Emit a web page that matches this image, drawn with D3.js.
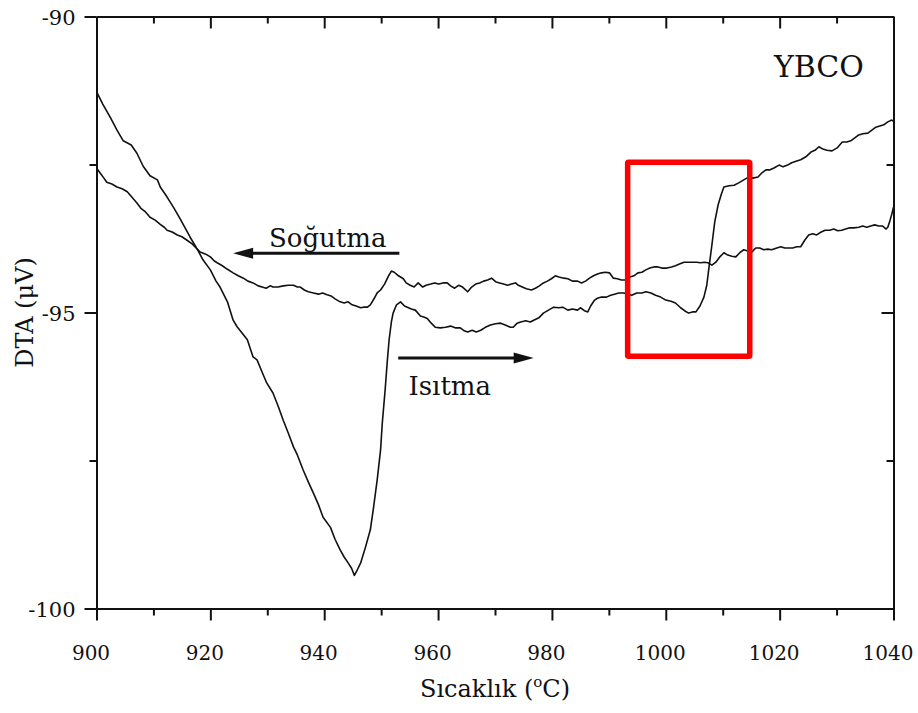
<!DOCTYPE html>
<meta charset="utf-8">
<style>
body { margin: 0; background: #fff; }
svg text { font-family: "DejaVu Serif", serif; fill: #111; }
.axis path, .axis line { stroke: #111; stroke-width: 2; }
.curve { fill: none; stroke: #111; stroke-width: 1.6; stroke-linejoin: round; }
</style>
<svg width="918" height="713"></svg>
<script src="https://d3js.org/d3.v7.min.js"></script>
<script>

// heating run (Isıtma) - temperature and DTA signal
const heatT = [900,901.1,902.4,903.6,904.7,906.1,907.1,908.2,909.4,910.7,911.2,912.4,913.5,914.7,916.4,917.7,918.7,920,921,921.7,923,924,924.7,926.5,927.5,928.2,929.1,929.9,931,931.9,932.8,933.7,934.6,935.3,936.3,937.2,938.1,939,939.8,941.1,941.9,942.8,943.5,944.2,944.8,945.3,945.8,946.4,947.2,948.1,948.6,949.3,949.9,950.2,950.7,951.1,951.4,951.8,952.1,952.7,953.4,954.1,954.6,955.3,956,956.9,957.6,958.1,958.8,959.5,960.4,961.3,962.2,963.1,963.9,964.6,965.2,966,966.7,967.5,968.3,969.2,970.1,971,971.8,972.7,973.2,973.9,974.5,975.4,976.2,976.8,977.7,978.5,979.4,980.3,981.2,981.9,982.8,983.6,984.5,985,985.7,986.3,986.8,987.5,988,988.7,989.6,990.3,991,991.7,992.6,993.5,994,994.9,995.8,996.5,997.4,998.2,999.1,1000,1000.9,1001.7,1002.6,1003.3,1004,1004.7,1005.3,1006,1006.7,1007.2,1007.6,1008.1,1008.6,1009.2,1009.7,1010.2,1011.1,1012,1012.8,1013.7,1014.6,1015.3,1016.2,1016.9,1017.6,1018.3,1019,1019.9,1020.6,1021.4,1022.1,1023,1023.7,1024.6,1025.5,1026.2,1026.9,1027.6,1028.3,1029.2,1030.1,1031,1031.8,1032.5,1033.2,1033.9,1034.6,1035.5,1036.2,1036.9,1037.6,1038.3,1039,1039.7,1040];
const heatDTA = [-91.27,-91.48,-91.7,-91.92,-92.1,-92.17,-92.31,-92.53,-92.69,-92.76,-92.88,-93.05,-93.22,-93.42,-93.72,-93.93,-94.11,-94.28,-94.47,-94.57,-94.82,-95.13,-95.24,-95.46,-95.75,-95.8,-96.01,-96.19,-96.36,-96.58,-96.82,-97.04,-97.27,-97.41,-97.66,-97.86,-98.05,-98.25,-98.46,-98.63,-98.83,-99.01,-99.13,-99.23,-99.32,-99.44,-99.35,-99.23,-98.98,-98.67,-98.34,-97.83,-97.32,-96.87,-96.31,-95.8,-95.46,-95.16,-95.01,-94.87,-94.82,-94.89,-94.91,-94.94,-94.96,-95.06,-95.08,-95.1,-95.18,-95.25,-95.26,-95.25,-95.23,-95.26,-95.26,-95.31,-95.33,-95.3,-95.33,-95.3,-95.25,-95.21,-95.19,-95.18,-95.21,-95.25,-95.25,-95.18,-95.16,-95.14,-95.16,-95.13,-95.09,-95.01,-94.96,-94.91,-94.92,-94.91,-94.96,-94.94,-94.96,-94.92,-94.97,-94.99,-94.89,-94.79,-94.76,-94.74,-94.74,-94.71,-94.69,-94.67,-94.67,-94.69,-94.71,-94.67,-94.67,-94.65,-94.67,-94.71,-94.74,-94.79,-94.81,-94.84,-94.92,-94.97,-95.01,-94.99,-94.99,-94.89,-94.74,-94.54,-94.23,-93.86,-93.47,-93.18,-93.02,-92.88,-92.86,-92.85,-92.81,-92.76,-92.71,-92.73,-92.71,-92.64,-92.59,-92.59,-92.56,-92.51,-92.54,-92.51,-92.47,-92.44,-92.42,-92.37,-92.29,-92.26,-92.2,-92.24,-92.26,-92.27,-92.22,-92.12,-92.12,-92.1,-92.05,-92,-91.98,-91.97,-91.92,-91.87,-91.85,-91.83,-91.78,-91.75,-91.77];

// cooling run (Soğutma)
const coolT = [900,900.6,901.3,901.8,902.7,903.6,904.5,905.4,906.2,907.1,907.8,908.5,909.4,910.3,911.2,911.9,912.4,913.3,914.2,915,915.9,916.8,917.5,918.2,919.1,920,920.7,921.2,922.1,923,924,924.9,925.8,926.6,927.5,928.4,929.1,929.8,930.5,931,931.9,932.8,933.7,934.6,935.3,935.8,936.5,937.2,938.1,939,939.7,940.5,941.2,941.9,942.8,943.5,944.2,944.9,945.6,946.4,946.9,947.6,948.1,948.8,949.3,949.9,950.6,951.3,951.8,952.3,952.9,953.4,953.9,954.4,955.1,955.8,956.5,957.3,957.9,958.7,959.4,960.1,960.9,961.6,962.2,962.9,963.6,964.3,965.2,965.9,966.6,967.3,968,968.7,969.4,970.1,970.8,971.5,972.2,972.9,973.6,974.1,974.8,975.5,976.4,977.1,977.8,978.5,979.2,979.9,980.6,981.2,982.1,982.8,983.6,984.5,985.2,985.9,986.6,987.3,988,988.7,989.4,990.1,990.8,991.5,992.2,993,993.7,994.4,995.1,995.8,996.5,997.2,997.9,998.6,999.3,1000.2,1001,1001.7,1002.4,1003.2,1004,1004.7,1005.4,1006.1,1006.8,1007.4,1008.1,1008.8,1009.5,1010.2,1010.9,1011.6,1012.3,1013,1013.7,1014.4,1015.1,1015.8,1016.5,1017.2,1017.9,1018.6,1019.5,1020.2,1020.9,1021.6,1022.3,1023,1023.7,1024.4,1025.1,1025.8,1026.5,1027.3,1028,1028.8,1029.5,1030.2,1030.9,1031.6,1032.3,1033,1033.9,1034.6,1035.3,1036,1036.7,1037.4,1038.1,1038.7,1039,1039.4,1039.7,1040];
const coolDTA = [-92.56,-92.64,-92.73,-92.8,-92.83,-92.88,-92.91,-92.96,-93.05,-93.15,-93.24,-93.29,-93.39,-93.44,-93.51,-93.56,-93.61,-93.64,-93.69,-93.72,-93.78,-93.84,-93.91,-93.98,-94.01,-94.06,-94.13,-94.16,-94.21,-94.27,-94.33,-94.38,-94.42,-94.47,-94.5,-94.55,-94.57,-94.59,-94.55,-94.57,-94.57,-94.55,-94.54,-94.54,-94.57,-94.57,-94.62,-94.65,-94.67,-94.69,-94.67,-94.7,-94.72,-94.77,-94.82,-94.84,-94.82,-94.87,-94.89,-94.92,-94.91,-94.91,-94.87,-94.76,-94.67,-94.62,-94.52,-94.38,-94.3,-94.32,-94.37,-94.4,-94.43,-94.5,-94.54,-94.57,-94.5,-94.57,-94.54,-94.52,-94.5,-94.52,-94.5,-94.5,-94.55,-94.59,-94.54,-94.57,-94.65,-94.57,-94.52,-94.5,-94.47,-94.45,-94.42,-94.48,-94.5,-94.52,-94.54,-94.52,-94.5,-94.54,-94.57,-94.6,-94.62,-94.59,-94.55,-94.5,-94.47,-94.43,-94.38,-94.4,-94.42,-94.43,-94.47,-94.47,-94.5,-94.47,-94.42,-94.38,-94.35,-94.33,-94.32,-94.33,-94.42,-94.43,-94.45,-94.45,-94.4,-94.38,-94.33,-94.32,-94.28,-94.25,-94.23,-94.23,-94.25,-94.25,-94.23,-94.21,-94.18,-94.15,-94.15,-94.15,-94.15,-94.16,-94.15,-94.16,-94.2,-94.15,-94.06,-93.99,-94.03,-94.05,-94.06,-93.99,-93.94,-93.96,-93.98,-93.91,-93.91,-93.94,-93.93,-93.94,-93.91,-93.89,-93.91,-93.91,-93.91,-93.89,-93.89,-93.78,-93.69,-93.67,-93.69,-93.64,-93.61,-93.61,-93.59,-93.62,-93.61,-93.59,-93.57,-93.57,-93.56,-93.54,-93.56,-93.54,-93.52,-93.54,-93.54,-93.59,-93.56,-93.44,-93.34,-93.22];

const xTicks = [900, 920, 940, 960, 980, 1000, 1020, 1040];
const xMinor = [910, 930, 950, 970, 990, 1010, 1030];
const yTicks = [-100, -95, -90];
const yMinor = [-97.5, -92.5];

// annotations, in data units
const coolArrow = [[953.2, -94.0], [924.0, -94.0]];
const heatArrow = [[953.0, -95.77], [976.8, -95.77]];
const labels = [
  {text: "Soğutma", t: 930.3, v: -93.89, size: 26},
  {text: "Isıtma", t: 954.8, v: -96.39, size: 26},
  {text: "YBCO", t: 1019.0, v: -91.02, size: 30}
];
const box = {t0: 993.3, t1: 1014.75, v0: -92.46, v1: -95.74};

const svg = d3.select("svg");
const x = d3.scaleLinear().domain([900, 1040]).range([96.5, 893.5]);
const y = d3.scaleLinear().domain([-100, -90]).range([608.5, 16.5]);
const x0 = 96.5, x1 = 893.5, y0 = 608.5, y1 = 16.5;
const fmt = d => String(d);

const line = d3.line().x(d => x(d[0])).y(d => y(d[1]));

svg.append("path").attr("class", "curve")
  .attr("d", line(heatT.map((t, i) => [t, heatDTA[i]])));
svg.append("path").attr("class", "curve")
  .attr("d", line(coolT.map((t, i) => [t, coolDTA[i]])));

// axes
function ax(a, tx, ty, cls) {
  return svg.append("g").attr("class", "axis " + cls)
    .attr("transform", "translate(" + tx + "," + ty + ")").call(a);
}
const bottom = ax(d3.axisBottom(x).tickValues(xTicks).tickSize(12).tickSizeOuter(0).tickFormat(fmt), 0, y0, "xb");
ax(d3.axisBottom(x).tickValues(xMinor).tickSize(7).tickSizeOuter(0).tickFormat(""), 0, y0, "xm");
ax(d3.axisTop(x).tickValues(xTicks).tickSize(-12).tickSizeOuter(0).tickFormat(""), 0, y1, "xt");
ax(d3.axisTop(x).tickValues(xMinor).tickSize(-7).tickSizeOuter(0).tickFormat(""), 0, y1, "xt");
const left = ax(d3.axisLeft(y).tickValues(yTicks).tickSize(12).tickSizeOuter(0).tickFormat(fmt), x0, 0, "yl");
ax(d3.axisLeft(y).tickValues(yMinor).tickSize(7).tickSizeOuter(0).tickFormat(""), x0, 0, "ym");
ax(d3.axisRight(y).tickValues(yTicks).tickSize(-12).tickSizeOuter(0).tickFormat(""), x1, 0, "yr");
ax(d3.axisRight(y).tickValues(yMinor).tickSize(-7).tickSizeOuter(0).tickFormat(""), x1, 0, "yr");

svg.selectAll(".axis").attr("font-family", null);
svg.selectAll(".axis text").attr("fill", "#111");
bottom.selectAll("text").attr("font-size", 20).attr("dy", null).attr("y", 51).attr("x", -6);
left.selectAll("text").attr("font-size", 21).attr("dy", "0.36em").attr("x", -21);

// axis titles
const xt = svg.append("text").attr("x", (x0 + x1) / 2).attr("y", 697)
  .attr("text-anchor", "middle").attr("font-size", 24);
xt.append("tspan").text("Sıcaklık (");
xt.append("tspan").text("o").attr("font-size", 15).attr("dy", -10);
xt.append("tspan").text("C)").attr("dy", 10);

svg.append("text").attr("transform", "translate(33," + (y0 + y1) / 2 + ") rotate(-90)")
  .attr("text-anchor", "middle").attr("font-size", 24).text("DTA (μV)");

// annotations
function arrow(p) {
  const a = [x(p[0][0]), y(p[0][1])], b = [x(p[1][0]), y(p[1][1])];
  const dir = Math.sign(b[0] - a[0]);
  svg.append("line").attr("x1", a[0]).attr("y1", a[1])
    .attr("x2", b[0] - dir * 14).attr("y2", b[1])
    .attr("stroke", "#111").attr("stroke-width", 3);
  svg.append("path")
    .attr("d", "M" + b[0] + "," + b[1] + "L" + (b[0] - dir * 20) + "," + (b[1] - 5.5) +
      "L" + (b[0] - dir * 20) + "," + (b[1] + 5.5) + "Z")
    .attr("fill", "#111");
}
arrow(coolArrow);
arrow(heatArrow);

svg.selectAll(".lbl").data(labels).join("text").attr("class", "lbl")
  .attr("x", d => x(d.t)).attr("y", d => y(d.v))
  .attr("font-size", d => d.size).text(d => d.text);

svg.append("rect")
  .attr("x", x(box.t0)).attr("y", y(box.v0))
  .attr("width", x(box.t1) - x(box.t0)).attr("height", y(box.v1) - y(box.v0))
  .attr("fill", "none").attr("stroke", "#f00").attr("stroke-width", 5.5).attr("rx", 1);

</script>
